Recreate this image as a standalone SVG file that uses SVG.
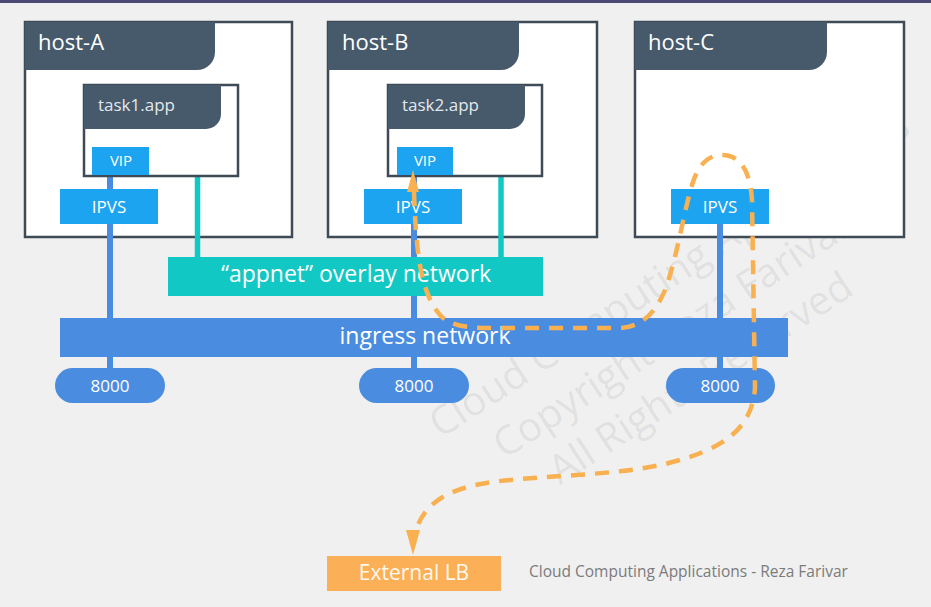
<svg xmlns="http://www.w3.org/2000/svg" width="931" height="607" viewBox="0 0 931 607">
<defs>
<style>
.host{fill:#ffffff;stroke:#3e4b57;stroke-width:2.5}
.hdr{fill:#465a6b}
.hostlbl{font-family:"Open Sans",sans-serif;font-size:22px;fill:#ffffff}
.tasklbl{font-family:"Open Sans",sans-serif;font-size:17px;fill:#e3e8ec}
.vip{fill:#1da4f0}
.sm{font-family:"Open Sans",sans-serif;fill:#ffffff;text-anchor:middle}
.blue{stroke:#4a8de0;stroke-width:6;fill:none}
.teal{stroke:#12c8c4;stroke-width:5.5;fill:none}
.port{fill:#4a8de0}
.net{font-family:"Open Sans",sans-serif;font-size:23px;fill:#ffffff;text-anchor:middle}
.flow{fill:none;stroke:#f8b050;stroke-width:4.5;stroke-dasharray:14 10}
.wm{font-family:"Open Sans",sans-serif;font-size:40px;fill:#000000;fill-opacity:0.085;text-anchor:middle}
</style>
</defs>
<rect x="0" y="0" width="931" height="607" fill="#f0f0f0"/>
<rect x="0" y="0" width="931" height="3" fill="#4b4a74"/>

<g id="watermark" transform="translate(672,334) rotate(-33)">
<text class="wm" x="30" y="-38">Cloud Computing Applications</text>
<text class="wm" x="0" y="14">Copyright Reza Farivar</text>
<text class="wm" x="0" y="66">All Rights Reserved</text>
</g>

<g id="host-A">
<rect class="host" x="25" y="22" width="267" height="215"/>
<path class="hdr" d="M25,22 H215 V52 A18,18 0 0 1 197,70 H25 Z"/>
<text class="hostlbl" x="38" y="50">host-A</text>
</g>
<g id="host-B">
<rect class="host" x="328" y="22" width="269" height="215"/>
<path class="hdr" d="M328,22 H519 V52 A18,18 0 0 1 501,70 H328 Z"/>
<text class="hostlbl" x="342" y="50">host-B</text>
</g>
<g id="host-C">
<rect class="host" x="635" y="22" width="269" height="215"/>
<path class="hdr" d="M635,22 H827 V52 A18,18 0 0 1 809,70 H635 Z"/>
<text class="hostlbl" x="648" y="50">host-C</text>
</g>

<g id="connectors">
<line class="blue" x1="110" y1="175" x2="110" y2="385"/>
<line class="blue" x1="414" y1="175" x2="414" y2="385"/>
<line class="blue" x1="720" y1="224" x2="720" y2="385"/>
<line class="teal" x1="197.5" y1="176" x2="197.5" y2="258"/>
<line class="teal" x1="501" y1="176" x2="501" y2="258"/>
</g>

<g id="task1">
<rect class="host" x="84" y="85" width="154" height="91"/>
<path class="hdr" d="M84,85 H221 V114 A15,15 0 0 1 206,129 H84 Z"/>
<text class="tasklbl" x="98" y="111">task1.app</text>
</g>
<g id="vip-A">
<rect class="vip" x="92" y="147" width="57" height="28"/>
<text class="sm" x="121" y="166" font-size="15">VIP</text>
</g>
<g id="ipvs-A">
<rect class="vip" x="60" y="189" width="98" height="35"/>
<text class="sm" x="109" y="213" font-size="17">IPVS</text>
</g>

<g id="task2">
<rect class="host" x="388" y="85" width="154" height="91"/>
<path class="hdr" d="M388,85 H525 V114 A15,15 0 0 1 510,129 H388 Z"/>
<text class="tasklbl" x="402" y="111">task2.app</text>
</g>
<g id="vip-B">
<rect class="vip" x="397" y="147" width="56" height="28"/>
<text class="sm" x="425" y="166" font-size="15">VIP</text>
</g>
<g id="ipvs-B">
<rect class="vip" x="364" y="189" width="98" height="35"/>
<text class="sm" x="413" y="213" font-size="17">IPVS</text>
</g>

<g id="ipvs-C">
<rect class="vip" x="671" y="189" width="98" height="35"/>
<text class="sm" x="720" y="213" font-size="17">IPVS</text>
</g>

<g id="overlay">
<rect x="168" y="257" width="375" height="39" fill="#12c8c4"/>
<text class="net" x="356" y="282">“appnet” overlay network</text>
</g>
<g id="ingress">
<rect x="60" y="318" width="728" height="39" fill="#4a8de0"/>
<text class="net" x="425" y="344">ingress network</text>
</g>

<g id="port-A">
<rect class="port" x="55" y="368" width="110" height="35" rx="17.5"/>
<text class="sm" x="110" y="392" font-size="17">8000</text>
</g>
<g id="port-B">
<rect class="port" x="359" y="368" width="110" height="35" rx="17.5"/>
<text class="sm" x="414" y="392" font-size="17">8000</text>
</g>
<g id="port-C">
<rect class="port" x="666" y="368" width="109" height="35" rx="17.5"/>
<text class="sm" x="720" y="392" font-size="17">8000</text>
</g>

<g id="external-lb">
<rect x="327" y="556" width="174" height="35" fill="#fbb057"/>
<text x="414" y="580" font-family="'Open Sans',sans-serif" font-size="21" fill="#fff8ec" text-anchor="middle">External LB</text>
</g>

<g id="flow">
<path class="flow" d="M414,192 C416,250 420,292 440,315 C450,326 466,328 492,328 L620,328 C642,327 656,312 665,290 C677,258 683,215 692,185 C699,162 710,155 722,155 C740,155 750,170 752,200 L755,388 C752,430 722,450 665,464 C612,476 545,475 492,482 C452,488 426,500 416,530"/>
<polygon points="413,170 407,192 419,192" fill="#f8b050"/>
<polygon points="413,555 406,530 420,530" fill="#f8b050"/>
</g>

<text id="footer" x="529" y="577" font-family="'Open Sans',sans-serif" font-size="15.5" fill="#7b7b7b">Cloud Computing Applications - Reza Farivar</text>
</svg>
